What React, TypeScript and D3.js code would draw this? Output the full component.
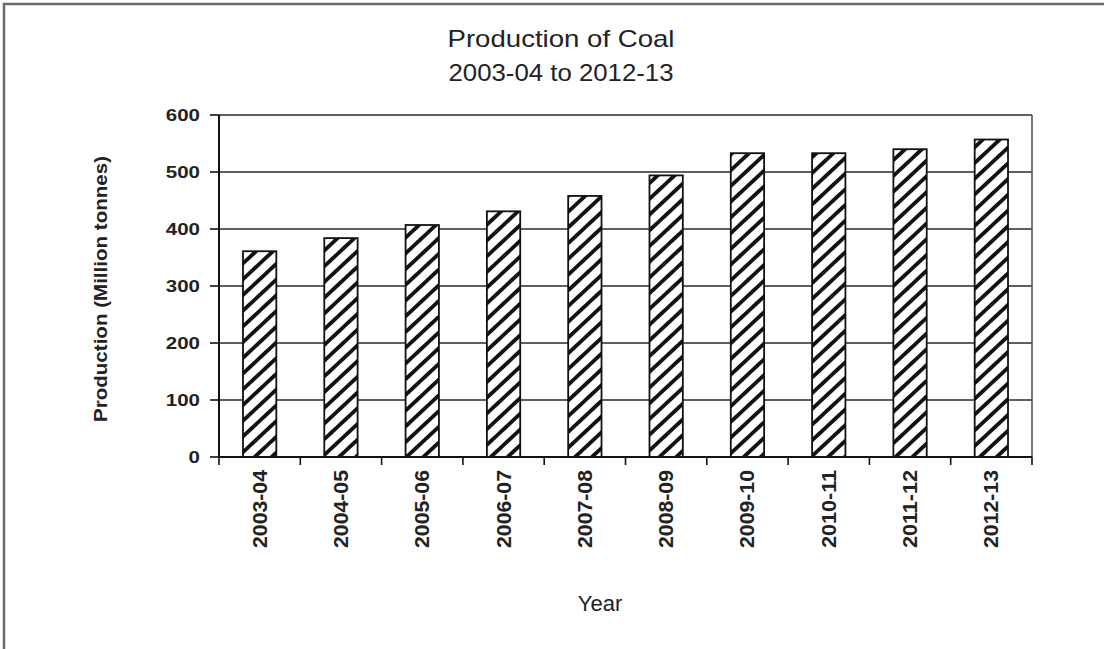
import React from 'react';
import * as d3 from 'd3';

const categories = ['2003-04', '2004-05', '2005-06', '2006-07', '2007-08', '2008-09', '2009-10', '2010-11', '2011-12', '2012-13'];
const production = [361, 384, 407, 431, 458, 494, 533, 533, 540, 557];
const yTicks = [0, 100, 200, 300, 400, 500, 600];
const titleLines = ['Production of Coal', '2003-04 to 2012-13'];
const yTitle = 'Production (Million tonnes)';
const xTitle = 'Year';

const W = 1104;
const H = 649;
const M = { left: 219, right: 1032, top: 115, bottom: 457 };
const FONT = '"Liberation Sans", Arial, Helvetica, sans-serif';

export default function App() {
  const x = d3.scaleBand<string>().domain(categories).range([M.left, M.right]).paddingInner(0.59).paddingOuter(0.295);
  const y = d3.scaleLinear().domain([0, 600]).range([M.bottom, M.top]);
  const step = x.step();
  const boundaries = d3.range(categories.length + 1).map((i) => M.left + i * step);

  return (
    <svg width={W} height={H} style={{ position: 'absolute', left: 0, top: 0, background: '#fff' }}>
      <defs>
        <pattern id="hatch" patternUnits="userSpaceOnUse" width={11.5} height={11.5} patternTransform="rotate(47)">
          <rect x={0} y={0} width={11.5} height={11.5} fill="#fff" />
          <rect x={0} y={0} width={3.8} height={11.5} fill="#111" />
        </pattern>
      </defs>
      <rect x={4} y={4} width={1300} height={900} fill="#fff" stroke="#6a6a6a" strokeWidth={2.5} />

      {titleLines.map((t, i) => (
        <text key={t} x={561} y={47 + i * 34} textAnchor="middle" fontFamily={FONT} fontSize={24} fill="#222"
          textLength={i === 0 ? 227 : 225} lengthAdjust="spacingAndGlyphs">{t}</text>
      ))}

      {/* gridlines */}
      {yTicks.filter((v) => v > 0).map((v) => (
        <line key={'g' + v} x1={M.left} x2={M.right} y1={y(v)} y2={y(v)} stroke="#2a2a2a" strokeWidth={1.6} />
      ))}
      {/* right border of plot */}
      <line x1={M.right} x2={M.right} y1={M.top} y2={M.bottom} stroke="#555" strokeWidth={1.6} />

      {/* bars */}
      {categories.map((c, i) => (
        <rect key={c} x={x(c)} y={y(production[i])} width={x.bandwidth()} height={M.bottom - y(production[i])}
          fill="url(#hatch)" stroke="#111" strokeWidth={1.8} />
      ))}

      {/* y axis */}
      <line x1={M.left} x2={M.left} y1={M.top} y2={M.bottom} stroke="#111" strokeWidth={2} />
      {yTicks.map((v) => (
        <g key={'t' + v}>
          <line x1={M.left - 9} x2={M.left} y1={y(v)} y2={y(v)} stroke="#111" strokeWidth={1.6} />
          <text x={200} y={y(v) + 6} textAnchor="end" fontFamily={FONT} fontWeight="bold" fontSize={17} fill="#222"
            textLength={String(v).length * 11.4} lengthAdjust="spacingAndGlyphs">{v}</text>
        </g>
      ))}

      {/* x axis */}
      <line x1={M.left} x2={M.right} y1={M.bottom} y2={M.bottom} stroke="#111" strokeWidth={2} />
      {boundaries.map((bx, i) => (
        <line key={'xb' + i} x1={bx} x2={bx} y1={M.bottom} y2={M.bottom + 8} stroke="#111" strokeWidth={1.6} />
      ))}
      {categories.map((c) => {
        const cx = (x(c) as number) + x.bandwidth() / 2;
        return (
          <text key={'xl' + c} transform={`translate(${cx + 7},470) rotate(-90)`} textAnchor="end" fontFamily={FONT}
            fontWeight="bold" fontSize={20} fill="#222" textLength={78} lengthAdjust="spacingAndGlyphs">{c}</text>
        );
      })}

      <text x={600} y={611} textAnchor="middle" fontFamily={FONT} fontSize={22} fill="#222">{xTitle}</text>
      <text transform={`translate(107,289) rotate(-90)`} textAnchor="middle" fontFamily={FONT} fontWeight="bold"
        fontSize={19} fill="#222" textLength={266} lengthAdjust="spacingAndGlyphs">{yTitle}</text>
    </svg>
  );
}
